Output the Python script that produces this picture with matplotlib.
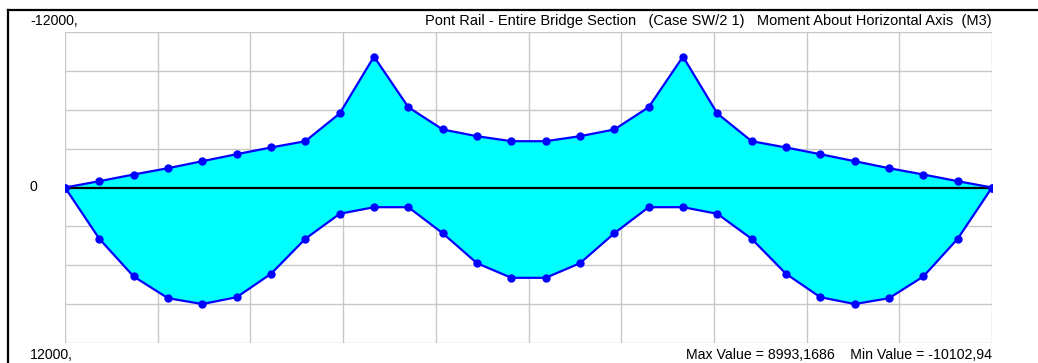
import matplotlib
matplotlib.use("Agg")
import matplotlib.pyplot as plt
from matplotlib.lines import Line2D

# Stations along the bridge deck (output points)
stations = [0, 1, 2, 3, 4, 5, 6, 7, 8, 9, 10, 11, 12, 13,
            14, 15, 16, 17, 18, 19, 20, 21, 22, 23, 24, 25, 26, 27]

# Moment envelope M3 (negative side / positive side)
m3_min = [0, -486, -1003, -1489, -2030, -2570, -3087, -3573, -5711, -10102.94,
          -6197, -4476, -3959, -3573, -3573, -3959, -4476, -6197, -10102.94, -5711,
          -3573, -3087, -2570, -2030, -1489, -1003, -486, 0]
m3_max = [0, 3959, 6868, 8543, 8993.1686, 8466, 6660, 3959, 2030, 1520,
          1520, 3527, 5842, 6968, 6968, 5842, 3527, 1520, 1520, 2030,
          3959, 6660, 8466, 8993.1686, 8543, 6868, 3959, 0]

y_limit = 12000
title = "Pont Rail - Entire Bridge Section   (Case SW/2 1)   Moment About Horizontal Axis  (M3)"
footer = "Max Value = 8993,1686    Min Value = -10102,94"

W, H = 1038, 363
fig = plt.figure(figsize=(W / 100, H / 100), dpi=100)
fig.patch.set_facecolor("white")

ax = fig.add_axes([65 / W, 1 - 343 / H, (992 - 65) / W, (343 - 32) / H])
ax.set_xlim(stations[0], stations[-1])
ax.set_ylim(y_limit, -y_limit)

grid_c = "#c8c8c8"
n_x = 10
for i in range(n_x + 1):
    ax.axvline(stations[0] + (stations[-1] - stations[0]) * i / n_x, color=grid_c, lw=1.0, zorder=0)
for v in range(-y_limit, y_limit + 1, 3000):
    ax.axhline(v, color=grid_c, lw=1.0, zorder=0)

ax.fill_between(stations, m3_min, m3_max, color="#00ffff", lw=0, zorder=1)
ax.axhline(0, color="black", lw=1.6, zorder=2)
ax.plot(stations, m3_min, color="#0000ff", lw=1.6, marker="o", ms=5, zorder=3)
ax.plot(stations, m3_max, color="#0000ff", lw=1.6, marker="o", ms=5, zorder=3)

ax.set_xticks([])
ax.set_yticks([])
for s in ax.spines.values():
    s.set_visible(False)

font = dict(family="Liberation Sans", fontsize=10.2, color="black")
fig.text(30 / W, 1 - 21 / H, "-12000,", ha="left", va="center", **font)
fig.text(30 / W, 1 - 187 / H, "0", ha="left", va="center", **font)
fig.text(30 / W, 1 - 355 / H, "12000,", ha="left", va="center", **font)
fig.text(992 / W, 1 - 21 / H, title, ha="right", va="center",
         family="Liberation Sans", fontsize=10.5, color="black")
fig.text(992 / W, 1 - 355 / H, footer, ha="right", va="center", **font)

# Window frame
fig.add_artist(Line2D([8 / W, 8 / W], [0, 1 - 10 / H], color="black", lw=1.6))
fig.add_artist(Line2D([8 / W, 1], [1 - 10 / H, 1 - 10 / H], color="black", lw=1.6))

fig.savefig("out.png", dpi=100)
